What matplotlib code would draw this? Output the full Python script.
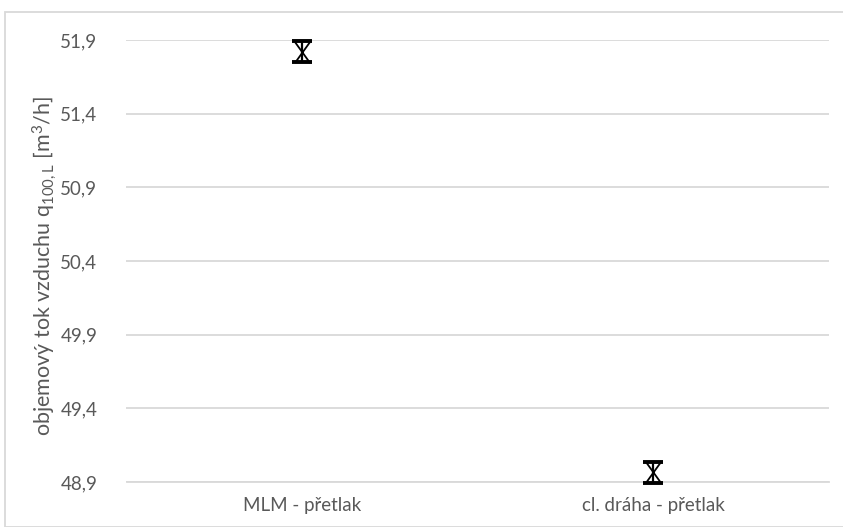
import matplotlib
matplotlib.use("Agg")
import matplotlib.pyplot as plt
from matplotlib.path import Path
from matplotlib.patches import Rectangle

# data
categories = ["MLM - přetlak", "cl. dráha - přetlak"]
flow_mean = [51.82, 48.965]
flow_err = [0.07, 0.07]
y_ticks = [48.9, 49.4, 49.9, 50.4, 50.9, 51.4, 51.9]

plt.rcParams["font.family"] = ["Lato", "DejaVu Sans"]
plt.rcParams["mathtext.default"] = "regular"

W, H = 843, 527
fig = plt.figure(figsize=(W / 100, H / 100), dpi=100)
fig.patch.set_facecolor("white")

# chart frame
fig.patches.append(Rectangle((5 / W, 0), 1.2, 1 - 12 / H, transform=fig.transFigure,
                             fill=False, edgecolor="#d9d9d9", linewidth=1.3))

ax = fig.add_axes([126.5 / W, (H - 482) / H, (828.5 - 126.5) / W, (482 - 40) / H])
ax.set_facecolor("none")

x = list(range(len(categories)))

# hourglass marker: diagonals between the cap ends
hg = Path([(-0.72, -1), (0.72, 1), (-0.72, 1), (0.72, -1)],
          [Path.MOVETO, Path.LINETO, Path.MOVETO, Path.LINETO])

ax.errorbar(x, flow_mean, yerr=flow_err, fmt="none", ecolor="black",
            elinewidth=1.6, capsize=7.5, capthick=2.8, clip_on=False, zorder=3)
ax.plot(x, flow_mean, linestyle="none", marker=hg, markersize=15,
        markeredgecolor="black", markeredgewidth=1.3, clip_on=False, zorder=4)

ax.set_xlim(-0.5, 1.5)
ax.set_ylim(48.9, 51.9)
ax.set_xticks(x)
ax.set_xticklabels(categories)
ax.set_yticks(y_ticks)
ax.set_yticklabels([f"{v:.1f}".replace(".", ",") for v in y_ticks])

ax.grid(axis="y", color="#d9d9d9", linewidth=1.3)
ax.set_axisbelow(True)
for s in ["top", "right", "left"]:
    ax.spines[s].set_visible(False)
ax.spines["bottom"].set_color("#d9d9d9")
ax.spines["bottom"].set_linewidth(1.3)

ax.tick_params(axis="both", length=0, labelsize=13.5, colors="#595959")
ax.tick_params(axis="y", pad=21)
ax.tick_params(axis="x", pad=11)

fig.text(45 / W, 1 - 266 / H, "objemový tok vzduchu q$_{100,L}$ [m$^{3}$/h]",
         rotation=90, ha="center", va="center", fontsize=15.5, color="#595959")

fig.savefig("out.png", dpi=100)
